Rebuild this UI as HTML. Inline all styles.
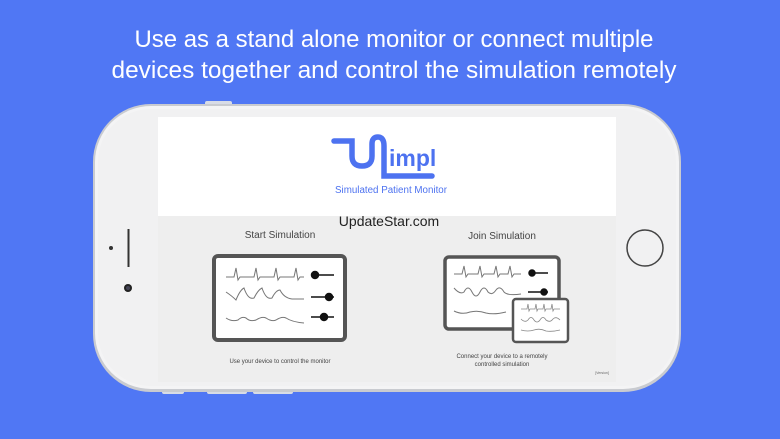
<!DOCTYPE html>
<html><head><meta charset="utf-8"><style>
html,body{margin:0;padding:0;width:780px;height:439px;overflow:hidden;background:#5077f4}
svg{display:block}
</style></head><body>
<svg width="780" height="439" viewBox="0 0 780 439" xmlns="http://www.w3.org/2000/svg" font-family="Liberation Sans, sans-serif">
<rect width="780" height="439" fill="#5077f4"/>
<text x="394" y="47" fill="#fff" font-size="24" text-anchor="middle" textLength="519" lengthAdjust="spacingAndGlyphs">Use as a stand alone monitor or connect multiple</text>
<text x="394" y="78" fill="#fff" font-size="24" text-anchor="middle" textLength="565" lengthAdjust="spacingAndGlyphs">devices together and control the simulation remotely</text>
<!-- side buttons -->
<rect x="205" y="101" width="27" height="5" rx="2" fill="#d8dce6"/>
<rect x="162" y="390" width="22" height="4" rx="2" fill="#d8dce6"/>
<rect x="207" y="390" width="40" height="4" rx="2" fill="#d8dce6"/>
<rect x="253" y="390" width="40" height="4" rx="2" fill="#d8dce6"/>
<!-- phone -->
<rect x="93" y="104" width="588" height="288" rx="58" fill="#c9cbd0"/>
<rect x="95" y="106" width="584" height="283" rx="56" fill="#f4f4f5"/>
<rect x="98" y="109" width="578" height="277" rx="53" fill="#f1f1f2"/>
<!-- screen -->
<rect x="158" y="117" width="458" height="265" fill="#eeeeee"/>
<rect x="158" y="117" width="458" height="99" fill="#ffffff"/>
<!-- logo -->
<g fill="none" stroke="#4d72f0" stroke-width="5.5" stroke-linecap="round">
<path d="M334 141 H352 V156 Q352 166 362 166 Q372 166 372 156 V144 Q372 137 378 137 Q384 137 384 146 V176 H432"/>
</g>
<text x="389" y="166" fill="#4d72f0" font-size="23" font-weight="bold">impl</text>
<text x="391" y="193" fill="#4d72f0" font-size="10" text-anchor="middle" textLength="112" lengthAdjust="spacingAndGlyphs">Simulated Patient Monitor</text>
<text x="389" y="226" fill="#222" font-size="14" text-anchor="middle">UpdateStar.com</text>
<text x="280" y="238" fill="#444" font-size="10" text-anchor="middle">Start Simulation</text>
<text x="502" y="239" fill="#444" font-size="10" text-anchor="middle">Join Simulation</text>
<!-- left monitor -->
<rect x="214" y="256" width="131" height="84" rx="4" fill="#fff" stroke="#555" stroke-width="4"/>
<g fill="none" stroke="#777" stroke-width="1">
<path d="M226 277 H234 L236 268 L238 280 L240 277 H254 L256 268 L258 280 L260 277 H274 L276 268 L278 280 L280 277 H294 L296 268 L298 280 L300 277 H304"/>
<path d="M226 292 Q232 296 236 300 Q240 290 244 288 Q248 300 254 298 Q258 290 262 288 Q266 300 272 298 Q276 290 280 290 Q284 298 292 299 H304"/>
<path d="M226 318 Q232 322 238 320 Q242 316 246 318 Q250 322 256 320 Q262 316 266 318 Q272 322 276 320 Q282 316 286 318 Q292 322 304 323"/>
</g>
<g stroke="#111" stroke-width="1.5" fill="#111">
<line x1="312" y1="275" x2="334" y2="275"/><circle cx="315" cy="275" r="3.5"/>
<line x1="311" y1="297" x2="334" y2="297"/><circle cx="329" cy="297" r="3.5"/>
<line x1="311" y1="317" x2="334" y2="317"/><circle cx="324" cy="317" r="3.5"/>
</g>
<text x="280" y="363" fill="#444" font-size="6" text-anchor="middle">Use your device to control the monitor</text>
<!-- right monitor -->
<rect x="445" y="257" width="114" height="72" rx="4" fill="#fff" stroke="#555" stroke-width="3.5"/>
<g fill="none" stroke="#777" stroke-width="1">
<path d="M454 274 H462 L464 266 L466 277 L468 274 H478 L480 266 L482 277 L484 274 H494 L496 266 L498 277 L500 274 H508 L510 266 L512 277 L514 274 H521"/>
<path d="M454 288 Q460 295 464 292 Q468 284 472 292 Q476 300 480 292 Q484 284 488 292 Q492 296 496 290 Q500 285 504 292 Q508 296 521 294"/>
<path d="M454 311 Q462 315 470 312 Q478 310 486 313 Q494 315 506 312"/>
</g>
<g stroke="#111" stroke-width="1.5" fill="#111">
<line x1="529" y1="273" x2="548" y2="273"/><circle cx="532" cy="273" r="3"/>
<line x1="528" y1="292" x2="548" y2="292"/><circle cx="544" cy="292" r="3"/>
</g>
<rect x="513" y="299" width="55" height="43" rx="3" fill="#fff" stroke="#555" stroke-width="2.5"/>
<g fill="none" stroke="#888" stroke-width="0.8">
<path d="M521 309 H527 L528 304 L529 311 L530 309 H535 L536 304 L537 311 L538 309 H543 L544 304 L545 311 L546 309 H551 L552 304 L553 311 L554 309 H560"/>
<path d="M521 319 Q525 323 528 320 Q531 315 534 320 Q537 324 540 320 Q543 315 546 320 Q550 323 553 319 Q556 316 560 320"/>
<path d="M521 330 Q528 332 534 330 Q540 328 546 331 Q552 332 560 330"/>
</g>
<text x="502" y="358" fill="#444" font-size="6" text-anchor="middle">Connect your device to a remotely</text>
<text x="502" y="366" fill="#444" font-size="6" text-anchor="middle">controlled simulation</text>
<text x="602" y="374" fill="#666" font-size="3.5" text-anchor="middle">[Version]</text>
<!-- left details -->
<circle cx="111" cy="248" r="2" fill="#333"/>
<rect x="127.5" y="229" width="2" height="38" fill="#333"/>
<circle cx="128" cy="288" r="4" fill="#222"/>
<circle cx="128" cy="288" r="2" fill="#445"/>
<!-- home button -->
<circle cx="645" cy="248" r="18" fill="none" stroke="#444" stroke-width="1.5"/>
</svg>
</body></html>
